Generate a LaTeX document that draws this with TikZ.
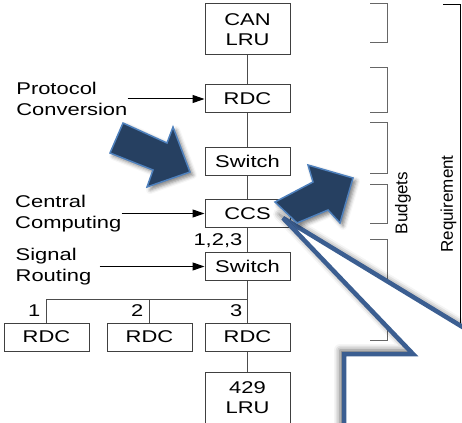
\documentclass[tikz,border=0pt]{standalone}
\usepackage{fontspec}
\setmainfont{Liberation Sans}[FakeStretch=1.29]
\newfontfamily\flatfont{Liberation Sans}
\usetikzlibrary{positioning,arrows.meta,shadows.blur}
\definecolor{navy}{RGB}{38,64,97}
\definecolor{rim}{RGB}{79,129,189}
\definecolor{callblue}{RGB}{59,94,145}

\begin{document}
\begin{tikzpicture}[
    x=1pt, y=-1pt,
    font=\fontsize{17}{20.5}\selectfont,
    unit/.style={draw=black!75, line width=1pt, minimum width=85pt, minimum height=28pt, inner sep=0pt, align=center},
    tall/.style={unit, minimum height=51pt},
    note/.style={inner sep=0pt, align=left},
    tag/.style={inner sep=0pt},
    feed/.style={-{Triangle[length=12pt,width=8pt]}, line width=1pt},
    link/.style={draw=black!70, line width=1pt},
    brace/.style={draw=black!60, line width=1pt},
    sideways/.style={rotate=90, inner sep=0pt, font=\flatfont\fontsize{17}{20}\selectfont},
    bigarrow/.style={fill=navy, draw=rim, line width=1.5pt, blur shadow={shadow xshift=3pt, shadow yshift=-3pt, shadow opacity=50, shadow blur radius=4pt}},
    callout/.style={fill=white, draw=callblue, line width=4.5pt, miter limit=4, blur shadow={shadow xshift=-4pt, shadow yshift=4pt, shadow opacity=60, shadow blur radius=6pt}}
  ]
  \useasboundingbox (0,0) rectangle (462,422);

  % main chain of units
  \node[tall] (can) at (247.5,29.5) {CAN\\LRU};
  \node[unit, below=29pt of can] (rdcA) {RDC};
  \node[unit, below=33.5pt of rdcA] (swA) {Switch};
  \node[unit, below=23pt of swA] (ccs) {CCS};
  \node[unit, below=24pt of ccs] (swB) {Switch};
  \node[unit, below=41.5pt of swB] (rdc3) {RDC};
  \node[unit, left=12pt of rdc3] (rdc2) {RDC};
  \node[unit, left=17pt of rdc2] (rdc1) {RDC};
  \node[tall, below=20pt of rdc3] (lru) {429\\LRU};

  % functions on the left
  \node[note, left=77pt of rdcA] (proto) {Protocol\\Conversion};
  \node[note, left=83pt of ccs] (cent) {Central\\Computing};
  \node[note, left=113pt of swB] (sig) {Signal\\Routing};

  \draw[feed] (proto) -- (rdcA);
  \draw[feed] (cent) -- (ccs);
  \draw[feed, shorten <=8pt] (sig) -- (swB);

  % links
  \draw[link] (can) -- (rdcA) (rdcA) -- (swA) (swA) -- (ccs) (ccs) -- (swB)
    (swB) -- (rdc3) (rdc3) -- (lru);
  \coordinate[below=18pt of swB.south] (bus);
  \draw[link] (rdc1) |- (bus) (rdc2) |- (bus);

  \node[tag, above left=6pt and 6pt of rdc1.north] (t1) {1};
  \node[tag, above left=6pt and 6pt of rdc2.north] (t2) {2};
  \node[tag, above left=6pt and 5pt of rdc3.north] (t3) {3};
  \node[tag, above left=4pt and 5pt of swB.north] (t123) {1,2,3};

  % budgets and requirement
  \foreach \a/\b in {4/43, 68/113, 123/173, 184/223, 239/340}
    \draw[brace] (370,\a) -| (387,\b) -- (370,\b);
  \node[sideways] (bud) at (403,203) {Budgets};
  \draw[line width=1pt] (443,5) -| (460,400);
  \node[sideways] (req) at (448.5,204) {Requirement};

  % callout
  \begin{scope}
    \clip (0,0) rectangle (462,422);
    \draw[callout] (344,440) -- (344,354) -- (413,354) -- (283,218) -- (480,337.6) -- (480,440) -- cycle;
  \end{scope}

  % block arrows
  \draw[bigarrow] (123,123) -- (167,143) -- (173,127) -- (190,172) -- (147,187) -- (153,170) -- (110,153) -- cycle;
  \draw[bigarrow] (275,202) -- (313,182) -- (308,165) -- (353,178) -- (340,223) -- (328,210) -- (297,223) -- cycle;
\end{tikzpicture}
\end{document}
